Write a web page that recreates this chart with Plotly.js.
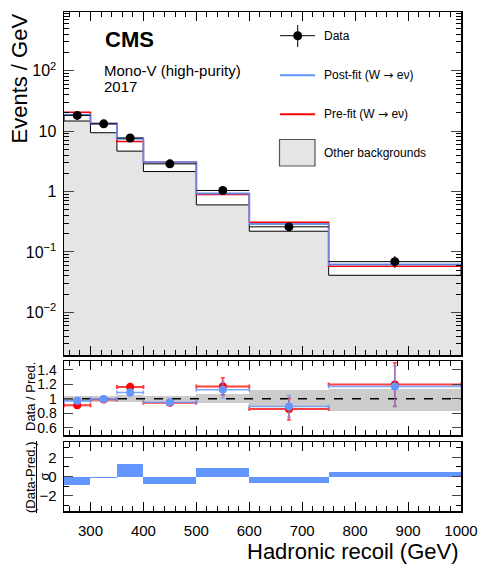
<!DOCTYPE html>
<html><head><meta charset="utf-8">
<script src="https://cdn.plot.ly/plotly-3.0.1.min.js"></script>
<style>html,body{margin:0;padding:0;background:#fff}</style>
</head><body><div id="chart" style="width:483px;height:568px"></div>
<script>
const binEdges = [250, 300, 350, 400, 500, 600, 750, 1000];
const dataVals = [18.2, 13.2, 7.7, 2.87, 1.04, 0.26, 0.069];
const dataErrUp = [0.6, 0.51, 0.39, 0.17, 0.10, 0.045, 0.017];
const dataErrDn = [0.6, 0.51, 0.39, 0.17, 0.10, 0.040, 0.015];
const postFit = [18.7, 13.3, 7.5, 3.05, 0.93, 0.29, 0.062];
const preFit = [20.5, 13.4, 6.7, 3.05, 0.89, 0.31, 0.058];
const otherBkg = [14.7, 9.4, 4.66, 2.14, 0.60, 0.22, 0.041];
const ratioPre = [0.91, 0.99, 1.16, 0.945, 1.17, 0.858, 1.197];
const ratioPreErr = [0.02, 0.02, 0.05, 0.03, 0.12, 0.15, 0.30];
const ratioPost = [0.972, 0.995, 1.087, 0.95, 1.124, 0.894, 1.17];
const ratioPostErr = [0.02, 0.02, 0.045, 0.03, 0.11, 0.15, 0.28];
const bandLow = [0.955, 0.96, 0.96, 0.965, 0.935, 0.89, 0.83];
const bandHigh = [1.04, 1.04, 1.045, 1.035, 1.07, 1.12, 1.14];
const pulls = [-0.87, -0.17, 1.26, -0.8, 0.92, -0.66, 0.49];
const xTickVals = [300, 400, 500, 600, 700, 800, 900, 1000];
const mainTickVals = [0.01, 0.1, 1, 10, 100];
const mainTickText = ['10<sup>\u22122</sup>', '10<sup>\u22121</sup>', '1', '10', '10<sup>2</sup>'];

const centers = [], widths = [], halfW = [];
for (let i = 0; i < binEdges.length - 1; i++) {
  centers.push((binEdges[i] + binEdges[i + 1]) / 2);
  widths.push(binEdges[i + 1] - binEdges[i]);
  halfW.push((binEdges[i + 1] - binEdges[i]) / 2);
}
const stepY = arr => arr.concat([arr[arr.length - 1]]);
const boxH = postFit.map((v, i) => v - otherBkg[i]);
const bandH = bandHigh.map((v, i) => v - bandLow[i]);

const FONT = 'Liberation Sans, Arial, Helvetica, sans-serif';
const blue = 'rgb(100,150,255)';
const ARROW = '<span style="font-family:DejaVu Sans">\u2192</span>';

const traces = [
  // main panel
  {type: 'bar', x: centers, y: otherBkg, width: widths, xaxis: 'x3', yaxis: 'y3',
   marker: {color: '#e5e5e5', line: {width: 0}}, hoverinfo: 'skip'},
  {type: 'bar', x: centers, y: boxH, base: otherBkg, width: widths, xaxis: 'x3', yaxis: 'y3',
   marker: {color: '#ffffff', line: {width: 1, color: '#000'}}, hoverinfo: 'skip'},
  {type: 'scatter', mode: 'lines', x: binEdges, y: stepY(preFit), xaxis: 'x3', yaxis: 'y3',
   line: {shape: 'hv', color: 'rgb(255,0,0)', width: 1.5}},
  {type: 'scatter', mode: 'lines', x: binEdges, y: stepY(postFit), xaxis: 'x3', yaxis: 'y3',
   line: {shape: 'hv', color: 'rgba(100,150,255,0.85)', width: 2}},
  {type: 'scatter', mode: 'markers', x: centers, y: dataVals, xaxis: 'x3', yaxis: 'y3',
   marker: {color: '#000', size: 9},
   error_x: {type: 'data', array: halfW, color: '#000', thickness: 1, width: 0},
   error_y: {type: 'data', symmetric: false, array: dataErrUp, arrayminus: dataErrDn, color: '#000', thickness: 1, width: 0}},
  // ratio panel
  {type: 'bar', x: centers, y: bandH, base: bandLow, width: widths, xaxis: 'x2', yaxis: 'y2',
   marker: {color: '#cccccc', line: {width: 0}}, hoverinfo: 'skip'},
  {type: 'scatter', mode: 'lines', x: [250, 1000], y: [1, 1], xaxis: 'x2', yaxis: 'y2',
   line: {color: '#000', width: 1.5, dash: 'dash'}},
  {type: 'scatter', mode: 'markers', x: centers, y: ratioPre, xaxis: 'x2', yaxis: 'y2',
   marker: {color: 'rgb(255,0,0)', size: 8},
   error_x: {type: 'data', array: halfW, color: 'rgba(255,0,0,0.75)', thickness: 2, width: 2},
   error_y: {type: 'data', array: ratioPreErr, color: 'rgba(255,0,0,0.75)', thickness: 1.5, width: 2}},
  {type: 'scatter', mode: 'markers', x: centers, y: ratioPost, xaxis: 'x2', yaxis: 'y2',
   marker: {color: blue, size: 8},
   error_x: {type: 'data', array: halfW, color: 'rgba(100,150,255,0.85)', thickness: 1.5, width: 2},
   error_y: {type: 'data', array: ratioPostErr, color: 'rgba(120,140,230,0.7)', thickness: 1.5, width: 2}},
  // pull panel
  {type: 'bar', x: centers, y: pulls, width: widths, xaxis: 'x', yaxis: 'y',
   marker: {color: blue, line: {width: 0}}, hoverinfo: 'skip'}
];

const L = 64, R = 461, T = 12, B = 511;
const px = v => (v - L) / (R - L);
const py = v => (B - v) / (B - T);

const xCommon = {
  range: [250, 1000], showline: true, linewidth: 1.5, linecolor: '#000', mirror: 'allticks',
  ticks: 'inside', ticklen: 9, tickwidth: 1, tickcolor: '#000', tickvals: xTickVals,
  minor: {ticks: 'inside', ticklen: 5, dtick: 20, tick0: 0, tickcolor: '#000'},
  showgrid: false, zeroline: false, fixedrange: true
};

const layout = {
  width: 483, height: 568,
  margin: {l: L, r: 483 - R, t: T, b: 568 - B},
  paper_bgcolor: '#fff', plot_bgcolor: '#fff',
  showlegend: false, barmode: 'overlay', bargap: 0,
  font: {family: FONT, color: '#000'},
  xaxis: Object.assign({}, xCommon, {anchor: 'y', showticklabels: true,
    tickfont: {size: 15, family: FONT}, ticklabelstandoff: 5}),
  xaxis2: Object.assign({}, xCommon, {anchor: 'y2', matches: 'x', showticklabels: false}),
  xaxis3: Object.assign({}, xCommon, {anchor: 'y3', matches: 'x', showticklabels: false}),
  yaxis: {domain: [0, (B - 442) / (B - T)], range: [-3.6, 3.6], tickvals: [-2, 0, 2],
    ticktext: ['\u22122', '0', '2'], ticks: 'inside', ticklen: 9, showline: true, linewidth: 1.5,
    linecolor: '#000', mirror: 'allticks', showgrid: false, zeroline: false,
    minor: {ticks: 'inside', ticklen: 5, dtick: 1, tickcolor: '#000'},
    tickfont: {size: 15, family: FONT}, ticklabelstandoff: 3},
  yaxis2: {domain: [(B - 435) / (B - T), (B - 361) / (B - T)], range: [0.5, 1.52],
    tickvals: [0.6, 0.8, 1, 1.2, 1.4], ticktext: ['0.6', '0.8', '1', '1.2', '1.4'],
    ticks: 'inside', ticklen: 9, showline: true, linewidth: 1.5, linecolor: '#000',
    mirror: 'allticks', showgrid: false, zeroline: false,
    tickfont: {size: 14, family: FONT}, ticklabelstandoff: 3},
  yaxis3: {domain: [(B - 355) / (B - T), 1], type: 'log', range: [-2.707, 2.972],
    tickvals: mainTickVals, ticktext: mainTickText, ticks: 'inside', ticklen: 10,
    showline: true, linewidth: 1.5, linecolor: '#000', mirror: 'allticks',
    showgrid: false, zeroline: false,
    minor: {ticks: 'inside', ticklen: 5, dtick: 'D1', tickcolor: '#000'},
    tickfont: {size: 16, family: FONT}, ticklabelstandoff: 3},
  shapes: [
    {type: 'line', xref: 'paper', yref: 'paper', x0: px(280), x1: px(315), y0: py(35.7), y1: py(35.7), line: {color: '#000', width: 1}},
    {type: 'line', xref: 'paper', yref: 'paper', x0: px(297.7), x1: px(297.7), y0: py(25), y1: py(47), line: {color: '#000', width: 1}},
    {type: 'circle', xref: 'paper', yref: 'paper', x0: px(293.2), x1: px(302.2), y0: py(31.2), y1: py(40.2), fillcolor: '#000', line: {color: '#000', width: 0}},
    {type: 'line', xref: 'paper', yref: 'paper', x0: px(280), x1: px(315), y0: py(75.3), y1: py(75.3), line: {color: blue, width: 2}},
    {type: 'line', xref: 'paper', yref: 'paper', x0: px(280), x1: px(315), y0: py(114.3), y1: py(114.3), line: {color: 'rgb(255,0,0)', width: 2}},
    {type: 'rect', xref: 'paper', yref: 'paper', x0: px(279.5), x1: px(315), y0: py(166), y1: py(139.5), fillcolor: '#e5e5e5', line: {color: '#555', width: 1.2}},
    {type: 'line', xref: 'paper', yref: 'paper', x0: px(36.5), x1: px(36.5), y0: py(441), y1: py(513), line: {color: '#000', width: 1}}
  ],
  annotations: [
    {xref: 'paper', yref: 'paper', x: px(103), y: py(40), xanchor: 'left', yanchor: 'middle', showarrow: false,
     text: '<b>CMS</b>', font: {size: 22, family: FONT}},
    {xref: 'paper', yref: 'paper', x: px(102), y: py(70), xanchor: 'left', yanchor: 'middle', showarrow: false,
     text: 'Mono-V (high-purity)', font: {size: 15, family: FONT}},
    {xref: 'paper', yref: 'paper', x: px(102), y: py(86.5), xanchor: 'left', yanchor: 'middle', showarrow: false,
     text: '2017', font: {size: 15, family: FONT}},
    {xref: 'paper', yref: 'paper', x: px(322), y: py(35.7), xanchor: 'left', yanchor: 'middle', showarrow: false,
     text: 'Data', font: {size: 12, family: FONT}},
    {xref: 'paper', yref: 'paper', x: px(322), y: py(75.3), xanchor: 'left', yanchor: 'middle', showarrow: false,
     text: 'Post-fit (W ' + ARROW + ' e\u03bd)', font: {size: 12, family: FONT}},
    {xref: 'paper', yref: 'paper', x: px(322), y: py(114.3), xanchor: 'left', yanchor: 'middle', showarrow: false,
     text: 'Pre-fit (W ' + ARROW + ' e\u03bd)', font: {size: 12, family: FONT}},
    {xref: 'paper', yref: 'paper', x: px(322), y: py(153.3), xanchor: 'left', yanchor: 'middle', showarrow: false,
     text: 'Other backgrounds', font: {size: 12, family: FONT}},
    {xref: 'paper', yref: 'paper', x: 1.005, y: py(1.5), xanchor: 'right', yanchor: 'bottom', showarrow: false,
     text: '41.5 fb<sup>\u22121</sup> (13 TeV)', font: {size: 15, family: FONT}},
    {xref: 'paper', yref: 'paper', x: px(19), y: py(78.5), xanchor: 'center', yanchor: 'middle', showarrow: false,
     textangle: -90, text: 'Events / GeV', font: {size: 22, family: FONT}},
    {xref: 'paper', yref: 'paper', x: px(30), y: py(397), xanchor: 'center', yanchor: 'middle', showarrow: false,
     textangle: -90, text: 'Data / Pred.', font: {size: 13, family: FONT}},
    {xref: 'paper', yref: 'paper', x: px(30), y: py(477), xanchor: 'center', yanchor: 'middle', showarrow: false,
     textangle: -90, text: '(Data-Pred.)', font: {size: 13, family: FONT}},
    {xref: 'paper', yref: 'paper', x: px(43.5), y: py(477), xanchor: 'center', yanchor: 'middle', showarrow: false,
     textangle: -90, text: '\u03c3', font: {size: 13, family: FONT}},
    {xref: 'paper', yref: 'paper', x: 1, y: py(551), xanchor: 'right', yanchor: 'middle', showarrow: false,
     text: 'Hadronic recoil (GeV)', font: {size: 22, family: FONT}}
  ]
};

Plotly.newPlot('chart', traces, layout, {staticPlot: true, displayModeBar: false});
</script>
</body></html>
